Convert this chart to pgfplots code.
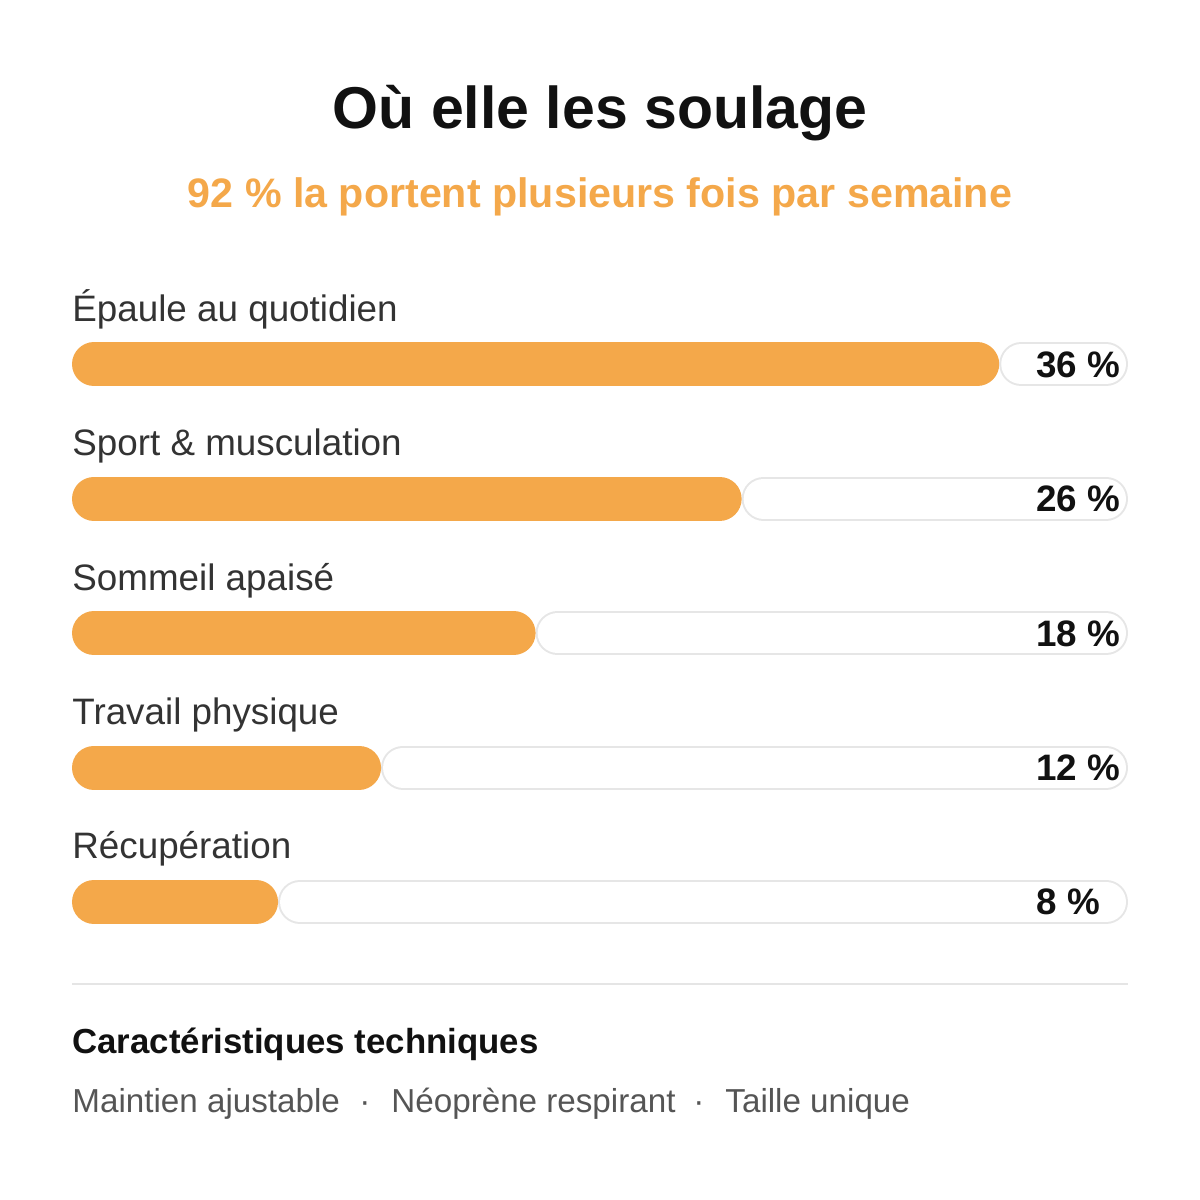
\documentclass[border=0pt]{standalone}
\usepackage{pgfplots}
\pgfplotsset{compat=1.18}
\usepackage{fontspec}
\setmainfont{Liberation Sans}

\definecolor{barorange}{HTML}{F4A84A}
\definecolor{edgegrey}{HTML}{E6E6E6}
\definecolor{labelgrey}{HTML}{333333}
\definecolor{footgrey}{HTML}{555555}
\definecolor{inkblack}{HTML}{111111}
\definecolor{rulegrey}{HTML}{E5E5E5}

% rounded bars: thick lines with round caps, shortened by the cap radius
\pgfplotsset{
  fillbar/.style={barorange, line width=22bp, line cap=round,
    shorten <=11bp, shorten >=11bp, mark=none, forget plot},
  trackline/.style={edgegrey, line width=22bp, line cap=round,
    shorten <=11bp, shorten >=11bp, mark=none, forget plot},
  trackfill/.style={white, line width=20bp, line cap=round,
    shorten <=11bp, shorten >=11bp, mark=none, forget plot},
}

\newcommand{\labfont}{\fontsize{18.4bp}{22bp}\selectfont}

\begin{document}
\begin{tikzpicture}
\path[use as bounding box] (0,0) rectangle (600bp,-600bp);

% titles
\node[anchor=base, inner sep=0, text=inkblack]
  at (300bp,-64bp) {\fontsize{29.5bp}{34bp}\selectfont\bfseries Où elle les soulage};
\node[anchor=base, inner sep=0, text=barorange]
  at (300bp,-103.5bp) {\fontsize{20.6bp}{24bp}\selectfont\bfseries 92 \% la portent plusieurs fois par semaine};

\begin{axis}[
    at={(36bp,-148.55bp)}, anchor=north west,
    scale only axis,
    width=528bp, height=336bp,
    xmin=0, xmax=41,
    ymin=-0.5, ymax=4.5,
    y dir=reverse,
    hide axis,
    clip=false,
  ]
  % Épaule au quotidien 36
  \addplot[trackline] coordinates {(36,0) (41,0)};
  \addplot[trackfill] coordinates {(36,0) (41,0)};
  \addplot[fillbar]   coordinates {(0,0) (36,0)};
  % Sport & musculation 26
  \addplot[trackline] coordinates {(26,1) (41,1)};
  \addplot[trackfill] coordinates {(26,1) (41,1)};
  \addplot[fillbar]   coordinates {(0,1) (26,1)};
  % Sommeil apaisé 18
  \addplot[trackline] coordinates {(18,2) (41,2)};
  \addplot[trackfill] coordinates {(18,2) (41,2)};
  \addplot[fillbar]   coordinates {(0,2) (18,2)};
  % Travail physique 12
  \addplot[trackline] coordinates {(12,3) (41,3)};
  \addplot[trackfill] coordinates {(12,3) (41,3)};
  \addplot[fillbar]   coordinates {(0,3) (12,3)};
  % Récupération 8
  \addplot[trackline] coordinates {(8,4) (41,4)};
  \addplot[trackfill] coordinates {(8,4) (41,4)};
  \addplot[fillbar]   coordinates {(0,4) (8,4)};

  % category names above the bars
  \foreach \i/\name in {0/Épaule au quotidien, 1/Sport \& musculation,
      2/Sommeil apaisé, 3/Travail physique, 4/Récupération} {
    \edef\temp{\noexpand\node[anchor=base west, inner sep=0, text=labelgrey, yshift=21.5bp]
      at (axis cs:0,\i) {\noexpand\labfont \unexpanded\expandafter{\name}};}
    \temp
  }
  % value labels
  \foreach \i/\val in {0/36, 1/26, 2/18, 3/12, 4/8} {
    \edef\temp{\noexpand\node[anchor=base west, inner sep=0, text=inkblack,
      xshift=-46bp, yshift=-6.5bp]
      at (axis cs:41,\i) {\noexpand\labfont\noexpand\bfseries \val\noexpand\space\noexpand\%};}
    \temp
  }
\end{axis}

% separator and footer
\draw[rulegrey, line width=1bp] (36bp,-492bp) -- (564bp,-492bp);
\node[anchor=base west, inner sep=0, text=inkblack]
  at (36bp,-526.5bp) {\fontsize{17.4bp}{21bp}\selectfont\bfseries Caractéristiques techniques};
\begin{scope}[every node/.style={anchor=base west, inner sep=0, text=footgrey,
    font=\fontsize{16.6bp}{20bp}\selectfont}]
  \node at (36bp,-556bp) {Maintien ajustable};
  \node[anchor=base] at (182.5bp,-556bp) {·};
  \node at (195.5bp,-556bp) {Néoprène respirant};
  \node[anchor=base] at (349.5bp,-556bp) {·};
  \node at (362.5bp,-556bp) {Taille unique};
\end{scope}
\end{tikzpicture}
\end{document}
